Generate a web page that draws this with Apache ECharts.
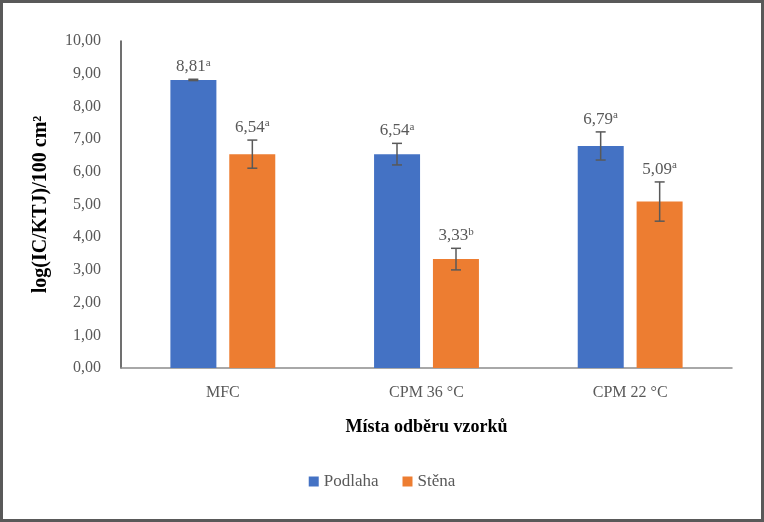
<!DOCTYPE html>
<html>
<head>
<meta charset="utf-8">
<script src="https://cdn.jsdelivr.net/npm/echarts@6/dist/echarts.min.js"></script>
<style>
  html, body { margin: 0; padding: 0; background: #fff; }
  #chart {
    width: 764px;
    height: 522px;
    box-sizing: border-box;
    border: 3px solid #595959;
  }
</style>
</head>
<body>
<div id="chart"></div>
<script>
// data
const categories = ['MFC', 'CPM 36 °C', 'CPM 22 °C']
const podlaha = [8.81, 6.54, 6.79]
const stena = [6.54, 3.33, 5.09]
const podlahaErr = [0.02, 0.33, 0.43]
const stenaErr = [0.43, 0.33, 0.6]
const podlahaLetters = ['a', 'a', 'a']
const stenaLetters = ['a', 'b', 'a']

const serif = '"Liberation Serif", "DejaVu Serif", serif'
const textColor = '#595959'
const barWidth = 46
const barGapPx = 13

const fmt = v => v.toFixed(2).replace('.', ',')

// error bar + value label, drawn over the bars
const errorSeries = (values, errs, letters, side) => ({
  type: 'custom',
  z: 10,
  silent: true,
  data: values.map((v, i) => [i, v, errs[i]]),
  renderItem: (params, api) => {
    const i = api.value(0)
    const v = api.value(1)
    const e = api.value(2)
    const dx = side * (barWidth + barGapPx) / 2
    const top = api.coord([i, v + e])
    const bot = api.coord([i, v - e])
    const x = top[0] + dx
    const cap = 5
    const lineStyle = { stroke: '#595959', lineWidth: 1.5 }
    return {
      type: 'group',
      children: [
        { type: 'line', shape: { x1: x, y1: top[1], x2: x, y2: bot[1] }, style: lineStyle },
        { type: 'line', shape: { x1: x - cap, y1: top[1], x2: x + cap, y2: top[1] }, style: lineStyle },
        { type: 'line', shape: { x1: x - cap, y1: bot[1], x2: x + cap, y2: bot[1] }, style: lineStyle },
        {
          type: 'text',
          x: x,
          y: top[1] - 3,
          style: {
            text: '{v|' + fmt(v) + '}{s|' + letters[i] + '}',
            align: 'center',
            verticalAlign: 'bottom',
            rich: {
              v: { fontFamily: serif, fontSize: 17, fill: textColor, color: textColor },
              s: { fontFamily: serif, fontSize: 11, fill: textColor, color: textColor, padding: [0, 0, 8, 0] }
            }
          }
        }
      ]
    }
  }
})

const chart = echarts.init(document.getElementById('chart'))
chart.setOption({
  animation: false,
  grid: { left: 118, right: 29, top: 38, bottom: 151 },
  legend: {
    bottom: 24,
    left: 'center',
    icon: 'rect',
    itemWidth: 10,
    itemHeight: 10,
    itemGap: 24,
    textStyle: { fontFamily: serif, fontSize: 17, color: textColor },
    data: ['Podlaha', 'Stěna']
  },
  xAxis: {
    type: 'category',
    data: categories,
    name: 'Místa odběru vzorků',
    nameLocation: 'middle',
    nameGap: 50,
    nameTextStyle: { fontFamily: serif, fontSize: 18, fontWeight: 'bold', color: '#000' },
    axisLine: { lineStyle: { color: '#8c8c8c', width: 1.5 } },
    axisTick: { show: false },
    axisLabel: { fontFamily: serif, fontSize: 16, color: textColor, margin: 17 }
  },
  yAxis: {
    type: 'value',
    min: 0,
    max: 10,
    interval: 1,
    name: 'log(IC/KTJ)/100 cm²',
    nameLocation: 'middle',
    nameGap: 70,
    nameTextStyle: { fontFamily: serif, fontSize: 20, fontWeight: 'bold', color: '#000' },
    axisLine: { show: true, lineStyle: { color: '#404040', width: 1.5 } },
    axisTick: { show: false },
    splitLine: { show: false },
    axisLabel: { fontFamily: serif, fontSize: 16, color: textColor, margin: 20, formatter: fmt }
  },
  series: [
    {
      name: 'Podlaha',
      type: 'bar',
      data: podlaha,
      barWidth: barWidth,
      barGap: (barGapPx / barWidth * 100).toFixed(0) + '%',
      itemStyle: { color: '#4472C4' }
    },
    {
      name: 'Stěna',
      type: 'bar',
      data: stena,
      barWidth: barWidth,
      itemStyle: { color: '#ED7D31' }
    },
    errorSeries(podlaha, podlahaErr, podlahaLetters, -1),
    errorSeries(stena, stenaErr, stenaLetters, 1)
  ]
})
</script>
</body>
</html>
